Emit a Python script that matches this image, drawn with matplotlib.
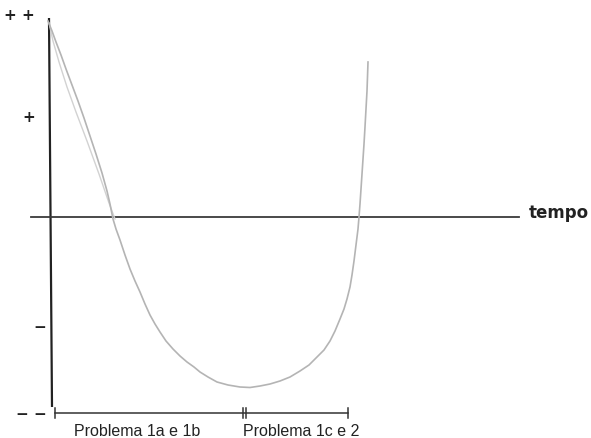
import matplotlib

matplotlib.use("Agg")
import matplotlib.pyplot as plt

# Sketch of a quantity over time: falls from "++" through zero to a deep
# minimum, then climbs back up sharply.
curve_t = [-0.01, 0.03, 0.07, 0.12, 0.17, 0.23, 0.29, 0.35, 0.41, 0.47,
           0.53, 0.58, 0.61, 0.64, 0.67, 0.71, 0.76, 0.81, 0.86, 0.91,
           0.96, 1.01, 1.06, 1.11, 1.17, 1.24, 1.31, 1.38, 1.45, 1.51,
           1.59, 1.68, 1.79, 1.91, 2.01, 2.11, 2.21, 2.31, 2.41, 2.51,
           2.60, 2.68, 2.75, 2.81, 2.86, 2.91, 2.95, 2.98, 3.01, 3.03,
           3.05, 3.07, 3.09, 3.10, 3.11, 3.12, 3.13, 3.14, 3.15, 3.16,
           3.17, 3.18, 3.185, 3.19]
curve_y = [1.96, 1.86, 1.75, 1.62, 1.48, 1.32, 1.16, 0.99, 0.81, 0.63,
           0.44, 0.26, 0.13, -0.02, -0.12, -0.23, -0.38, -0.52, -0.64, -0.75,
           -0.87, -0.98, -1.07, -1.15, -1.24, -1.32, -1.39, -1.45, -1.50, -1.55,
           -1.60, -1.65, -1.68, -1.70, -1.705, -1.69, -1.67, -1.64, -1.60, -1.54,
           -1.48, -1.40, -1.33, -1.24, -1.14, -1.02, -0.92, -0.82, -0.70, -0.58,
           -0.44, -0.28, -0.12, 0.00, 0.13, 0.28, 0.43, 0.58, 0.73, 0.90,
           1.08, 1.26, 1.40, 1.55]

# second, fainter pencil stroke over the first descent
stroke_t = [0.00, 0.04, 0.10, 0.18, 0.27, 0.38, 0.50, 0.60, 0.66]
stroke_y = [1.94, 1.76, 1.55, 1.30, 1.05, 0.76, 0.43, 0.14, -0.02]

level_y = [2.03, 1.01, -1.10, -1.97]
level_x = [-0.14, -0.14, -0.03, -0.02]
level_labels = ["+ +", "+", "\u2212", "\u2212 \u2212"]

phase_edges = [0.06, 1.94, 1.97, 2.99]
phase_label_x = [0.88, 2.52]
phase_labels = ["Problema 1a e 1b", "Problema 1c e 2"]

fig = plt.figure(figsize=(5.91, 4.39), dpi=100)
ax = fig.add_axes([0, 0, 1, 1])
ax.set_xlim(-0.49, 5.42)
ax.set_ylim(-2.21, 2.18)
ax.axis("off")

# axes drawn by hand
ax.plot([0.03, 0.0], [-1.90, 1.99], color="#222222", lw=1.6, solid_capstyle="butt")
ax.plot([-0.18, 4.70], [0.0, 0.0], color="#3a3a3a", lw=1.3)
ax.text(4.80, 0.05, "tempo", fontsize=12, fontweight="bold",
        family="DejaVu Sans", color="#222222", va="center", ha="left")

for x, y, lab in zip(level_x, level_y, level_labels):
    ax.text(x, y, lab, fontsize=11, fontweight="bold", family="DejaVu Sans",
            color="#222222", ha="right", va="center")

ax.plot(stroke_t, stroke_y, color="#d2d2d2", lw=1.0)
ax.plot(curve_t, curve_y, color="#b4b4b4", lw=1.2)

# timeline under the plot
y_tl = -1.96
ax.plot([phase_edges[0], phase_edges[-1]], [y_tl, y_tl], color="#333333", lw=1.1)
for x in phase_edges:
    ax.plot([x, x], [y_tl - 0.05, y_tl + 0.05], color="#333333", lw=1.1)

for x, lab in zip(phase_label_x, phase_labels):
    ax.text(x, -2.14, lab, fontsize=11.5, family="Liberation Sans",
            color="#222222", ha="center", va="center")

fig.savefig("out.png", dpi=100)
